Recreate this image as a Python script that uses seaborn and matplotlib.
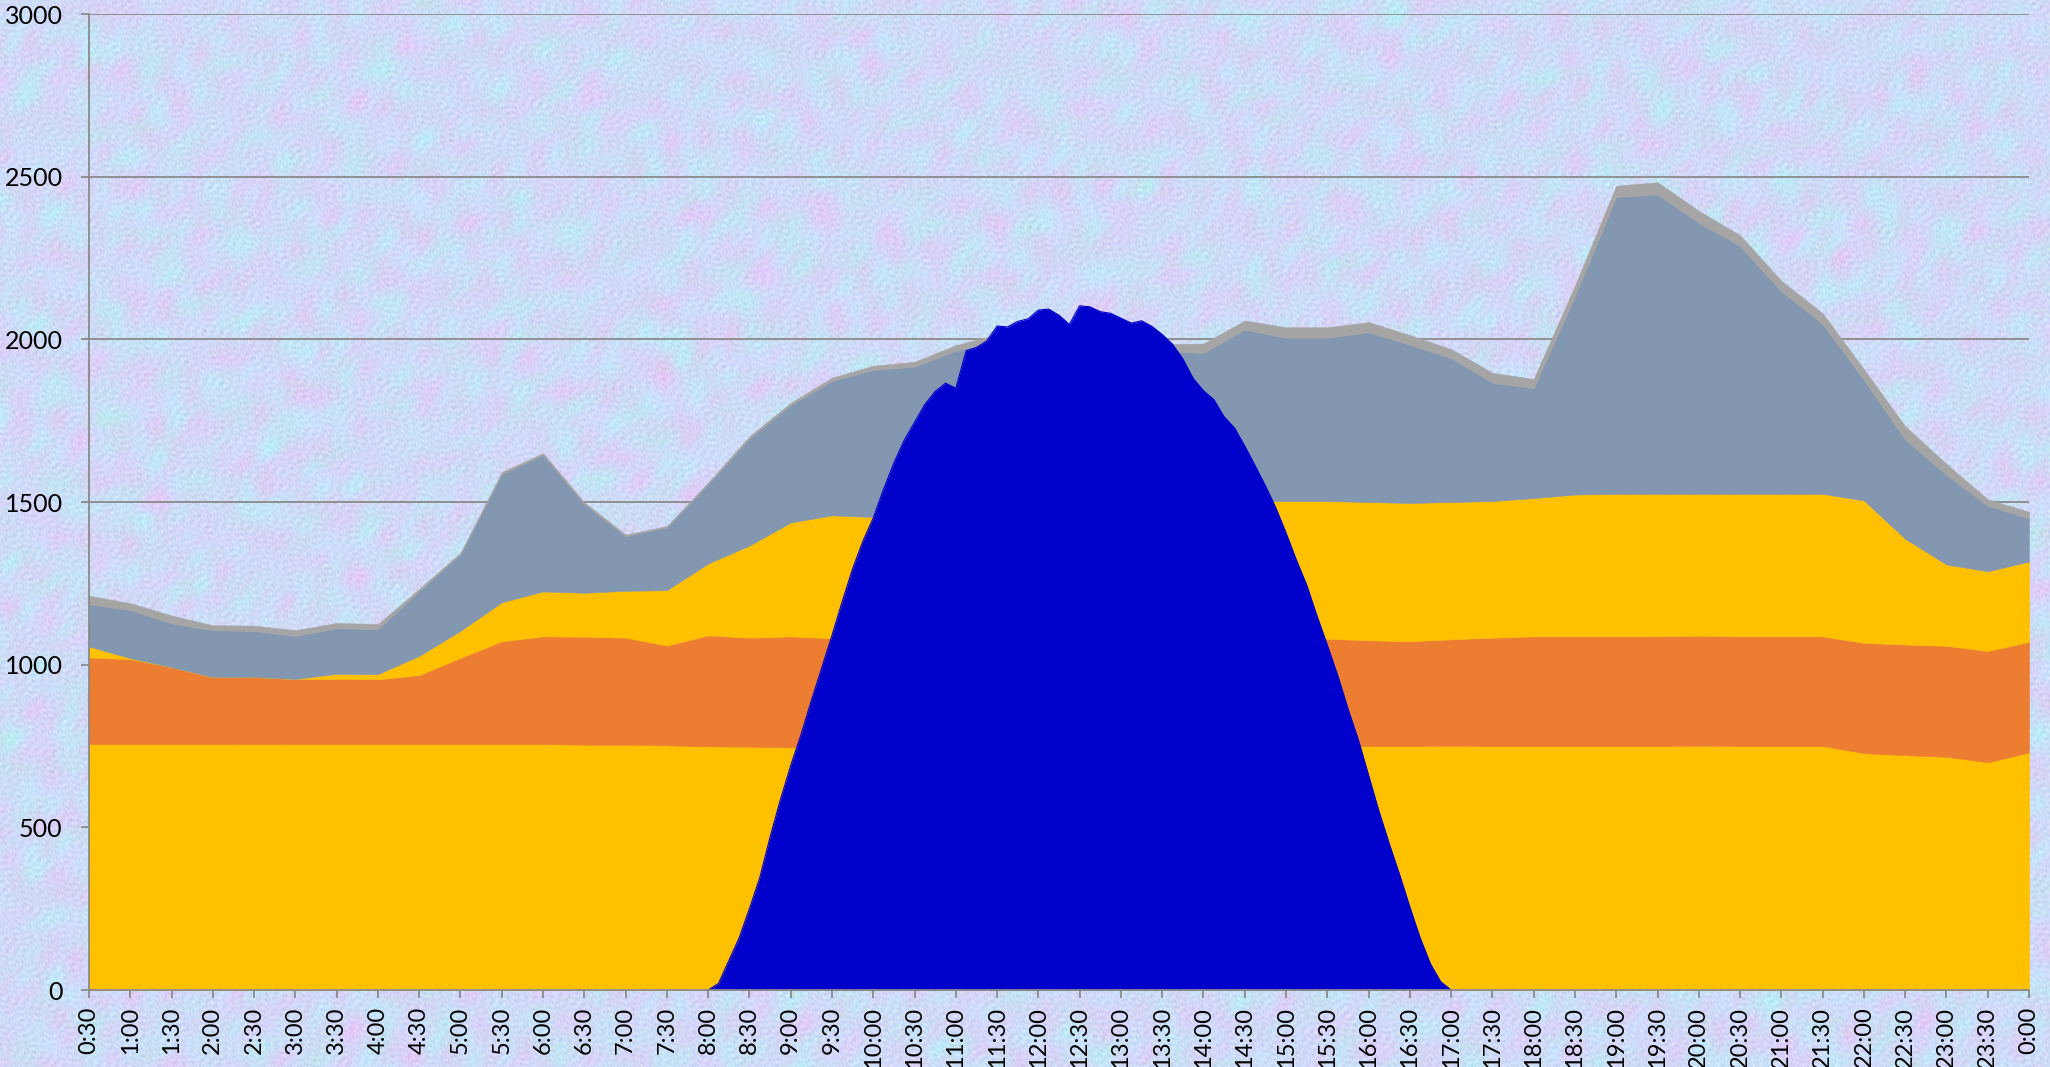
import numpy as np
import matplotlib
matplotlib.use("Agg")
import matplotlib.pyplot as plt
import seaborn as sns

# Half-hourly categories (end of each interval)
time_labels = [
    "0:30", "1:00", "1:30", "2:00", "2:30", "3:00", "3:30", "4:00",
    "4:30", "5:00", "5:30", "6:00", "6:30", "7:00", "7:30", "8:00",
    "8:30", "9:00", "9:30", "10:00", "10:30", "11:00", "11:30", "12:00",
    "12:30", "13:00", "13:30", "14:00", "14:30", "15:00", "15:30", "16:00",
    "16:30", "17:00", "17:30", "18:00", "18:30", "19:00", "19:30", "20:00",
    "20:30", "21:00", "21:30", "22:00", "22:30", "23:00", "23:30", "0:00",
]

# Stacked generation layers (MW), bottom to top
base_load = [
    756, 756, 756, 756, 756, 756, 756, 756, 756, 756, 756, 756,
    754, 754, 752, 749, 748, 746, 748, 748, 748, 749, 749, 750,
    750, 750, 750, 750, 750, 750, 750, 750, 750, 751, 750, 750,
    750, 750, 750, 751, 750, 750, 750, 728, 722, 717, 700, 730,
]
mid_band = [
    266, 261, 236, 206, 206, 200, 200, 199, 212, 265, 316, 331,
    332, 329, 307, 341, 335, 341, 333, 335, 335, 335, 335, 334,
    334, 334, 333, 332, 331, 331, 330, 325, 322, 327, 333, 337,
    337, 337, 337, 338, 337, 337, 337, 339, 340, 341, 342, 340,
]
flex_band = [
    34, 3, 0, 0, 0, 0, 16, 16, 59, 83, 120, 138,
    135, 144, 170, 221, 283, 350, 378, 371, 387, 396, 404, 409,
    412, 414, 417, 419, 421, 422, 423, 425, 425, 422, 420, 425,
    436, 438, 438, 436, 438, 438, 438, 438, 325, 250, 245, 247,
]
gas_band = [
    130, 148, 135, 144, 142, 132, 140, 138, 200, 235, 394, 420,
    272, 168, 193, 244, 329, 361, 413, 452, 446, 485, 507, 512,
    504, 492, 465, 457, 528, 502, 502, 522, 486, 442, 364, 338,
    610, 913, 920, 833, 762, 622, 522, 370, 305, 275, 201, 133,
]
other_band = [
    26, 21, 24, 15, 16, 18, 16, 16, 6, 5, 6, 5,
    6, 5, 4, 5, 7, 7, 10, 13, 15, 17, 20, 20,
    20, 20, 20, 29, 28, 32, 32, 31, 30, 28, 30, 28,
    32, 34, 38, 37, 33, 33, 33, 33, 41, 34, 20, 20,
]

# Solar output (MW) every 7.5 minutes from 8:00 to 17:00
solar_start_hour = 8.0
solar_step_hour = 0.125
solar_output = [
    0, 20, 90, 160, 250, 345, 470, 585, 690, 785, 890, 990,
    1090, 1195, 1295, 1380, 1451, 1540, 1620, 1690, 1745, 1800, 1840, 1865,
    1850, 1965, 1975, 1995, 2041, 2038, 2055, 2063, 2090, 2093, 2074, 2046,
    2103, 2100, 2085, 2080, 2065, 2050, 2057, 2040, 2015, 1985, 1940, 1880,
    1842, 1815, 1762, 1728, 1672, 1612, 1550, 1483, 1405, 1322, 1245, 1150,
    1060, 968, 865, 770, 660, 550, 450, 355, 255, 160, 80, 25, 0,
]

layer_colors = ["#FFC000", "#ED7D31", "#FFC000", "#8497B0", "#A5A5A5"]
solar_color = "#0000CC"
axis_grey = "#8A8A8A"


def paper_texture(h, w):
    """Soft mottled blue/lavender paper background built from layered waves."""
    yy, xx = np.mgrid[0:h, 0:w].astype(np.float32)
    golden = 0.6180339887
    plastic = 0.7548776662

    def field(n, offset, wl_lo, wl_hi):
        f = np.zeros((h, w), dtype=np.float32)
        for k in range(n):
            ang = 2 * np.pi * ((k * golden + offset) % 1.0)
            wl = wl_lo + (wl_hi - wl_lo) * ((k * plastic + offset * 3.1) % 1.0)
            ph = 2 * np.pi * ((k * 0.5698403 + offset * 7.3) % 1.0)
            f += np.sin((xx * np.cos(ang) + yy * np.sin(ang)) * (2 * np.pi / wl) + ph)
        return f / np.sqrt(n / 2.0)

    pink = field(28, 0.13, 25, 90)
    cyan = field(28, 0.47, 20, 70)
    grain = field(36, 0.81, 3, 9)
    img = np.empty((h, w, 3), dtype=np.float32)
    img[..., 0] = 0.812 + 0.018 * pink - 0.012 * cyan + 0.018 * grain
    img[..., 1] = 0.860 - 0.014 * pink + 0.013 * cyan + 0.018 * grain
    img[..., 2] = 0.968 + 0.006 * pink + 0.006 * cyan + 0.010 * grain
    return np.clip(img, 0, 1)


sns.set_theme(style="ticks")
plt.rcParams["font.family"] = ["Lato", "DejaVu Sans"]

W, H = 2050, 1067
fig = plt.figure(figsize=(W / 100, H / 100), dpi=100)

bg = fig.add_axes([0, 0, 1, 1], zorder=0)
bg.imshow(paper_texture(H, W), aspect="auto", extent=(0, 1, 0, 1), interpolation="bilinear")
bg.set_axis_off()

ax = fig.add_axes([89 / W, 1 - 990 / H, (2029 - 89) / W, (990 - 14) / H], zorder=1)
ax.patch.set_alpha(0)

hours = np.arange(1, len(time_labels) + 1) * 0.5
ax.stackplot(
    hours,
    [base_load, mid_band, flex_band, gas_band, other_band],
    colors=layer_colors,
    edgecolor="face",
    linewidth=0.4,
    zorder=2,
)

solar_hours = solar_start_hour + solar_step_hour * np.arange(len(solar_output))
ax.fill_between(solar_hours, solar_output, 0, color=solar_color, linewidth=0, zorder=3)
sns.lineplot(x=solar_hours, y=solar_output, color=solar_color, linewidth=0.8,
             ax=ax, zorder=3, sort=False)

ax.set_xlim(hours[0], hours[-1])
ax.set_ylim(0, 3000)
ax.set_yticks(np.arange(0, 3001, 500))
ax.set_xticks(hours)
ax.set_xticklabels(time_labels, rotation=90, va="top", ha="center")

ax.yaxis.grid(True, color=axis_grey, linewidth=1.3)
ax.xaxis.grid(False)
ax.set_axisbelow(True)
for side in ("top", "right"):
    ax.spines[side].set_visible(False)
for side in ("left", "bottom"):
    ax.spines[side].set_color(axis_grey)
    ax.spines[side].set_linewidth(1.3)
    ax.spines[side].set_zorder(4)

ax.tick_params(axis="both", direction="out", color=axis_grey, length=6, width=1.3,
               labelcolor="black")
ax.tick_params(axis="y", pad=13, labelsize=18)
ax.tick_params(axis="x", pad=6, labelsize=17)
ax.set_xlabel("")
ax.set_ylabel("")

fig.savefig("out.png", dpi=100)
